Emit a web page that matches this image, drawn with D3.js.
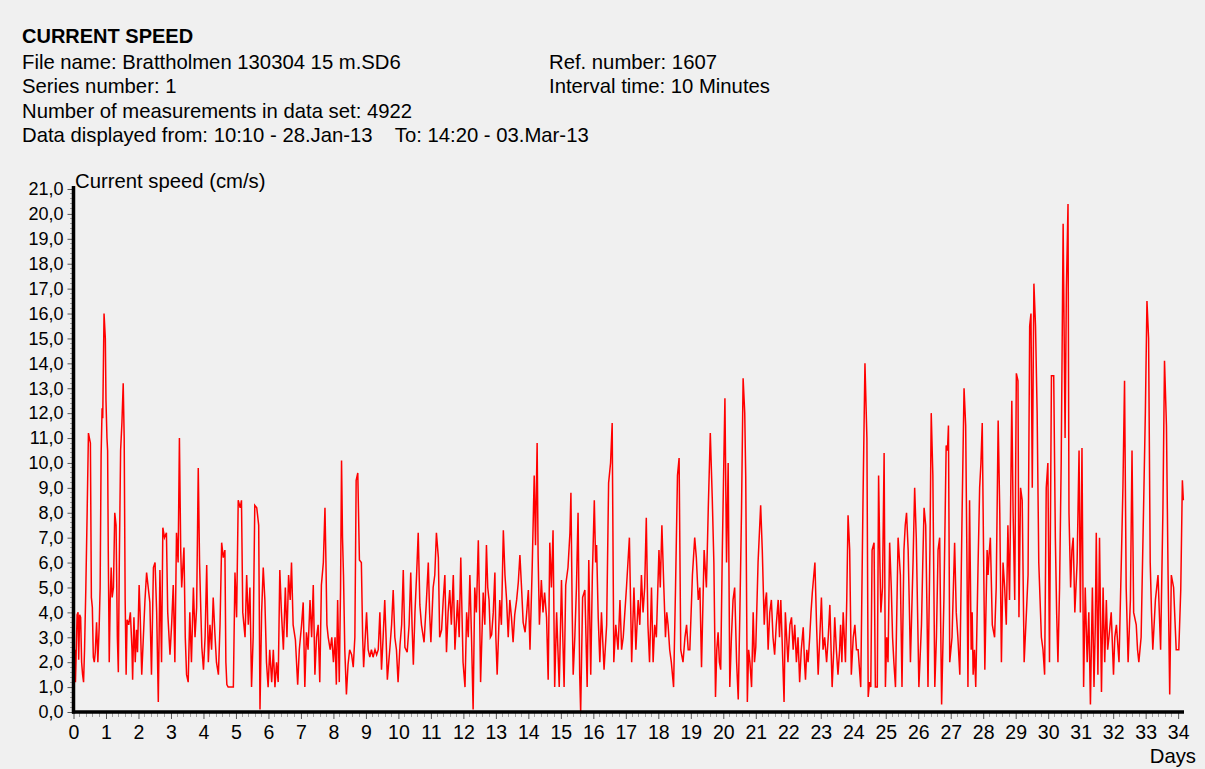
<!DOCTYPE html>
<html>
<head>
<meta charset="utf-8">
<script src="https://cdn.jsdelivr.net/npm/d3@7"></script>
<style>
  html, body { margin: 0; padding: 0; background: #f0f0f0; }
  svg { display: block; }
  text { font-family: "Liberation Sans", Arial, sans-serif; fill: #000; }
</style>
</head>
<body>
<svg id="chart" width="1205" height="769"></svg>
<script>
// ---- header text ----
const title = "CURRENT SPEED";
const infoLeft = [
  "File name: Brattholmen 130304 15 m.SD6",
  "Series number: 1",
  "Number of measurements in data set: 4922",
  "Data displayed from: 10:10 - 28.Jan-13    To: 14:20 - 03.Mar-13"
];
const infoRight = ["Ref. number: 1607", "Interval time: 10 Minutes"];
const yAxisTitle = "Current speed (cm/s)";
const xAxisTitle = "Days";

// ---- axis ticks ----
const yTickValues = d3.range(0, 22, 1);          // 0,0 ... 21,0
const xTickValues = d3.range(0, 35, 1);          // 0 ... 34
const totalDays = 34.18;                          // 4922 x 10 min

// ---- readings [day, current speed cm/s] ----
const seg1 = [[0.00,5.7],[0.02,1.6],[0.04,2.5],[0.06,1.2],[0.08,2.2],[0.11,3.9],[0.14,4.0],[0.16,2.1],[0.19,3.9],[0.22,3.8],[0.25,2.0],[0.28,1.5],[0.31,1.2],[0.34,2.5],[0.38,5.0],[0.42,8.0],[0.46,11.2],[0.49,11.0],[0.52,10.8],[0.55,4.6],[0.58,4.2],[0.61,2.2],[0.64,2.0],[0.67,2.4],[0.71,3.6],[0.75,2.0],[0.79,3.4],[0.82,5.0],[0.85,10.3],[0.88,12.2],[0.90,11.8],[0.94,16.0],[0.98,15.0],[1.00,12.5],[1.03,11.0],[1.05,10.5],[1.07,6.5],[1.10,2.0],[1.13,4.5],[1.16,5.8],[1.19,4.6],[1.23,5.0],[1.27,8.0],[1.31,7.5],[1.35,3.0],[1.38,1.6],[1.41,6.0],[1.45,10.5],[1.49,11.6],[1.53,13.2],[1.56,11.0],[1.59,4.5],[1.62,1.5],[1.65,3.7],[1.70,3.5],[1.75,4.0],[1.80,2.5],[1.82,1.3],[1.86,3.8],[1.90,2.0],[1.94,3.3],[1.97,2.4],[2.02,5.1],[2.05,4.0],[2.10,1.5],[2.15,3.0],[2.20,4.5],[2.25,5.6],[2.30,5.0],[2.35,4.4],[2.40,1.5],[2.46,5.8],[2.51,6.0],[2.56,4.0],[2.61,0.4],[2.66,5.7],[2.71,2.0],[2.75,7.4],[2.80,7.0],[2.86,7.2],[2.90,4.0],[2.97,2.3],[3.02,3.5],[3.07,5.1],[3.12,2.0],[3.17,7.2],[3.22,6.0],[3.26,11.0],[3.30,6.5],[3.33,5.0],[3.40,6.6],[3.44,3.0],[3.48,1.5],[3.53,1.2],[3.58,4.0],[3.63,2.0],[3.69,5.0],[3.74,3.0],[3.79,4.2],[3.84,9.8],[3.88,6.0],[3.92,4.0],[3.95,2.6],[4.00,1.7],[4.05,3.0],[4.10,5.9],[4.15,2.0],[4.20,3.5],[4.25,2.5],[4.30,4.6],[4.35,3.2],[4.40,2.0],[4.46,1.5],[4.51,3.5],[4.56,6.8],[4.61,6.2],[4.66,6.5],[4.69,2.0],[4.72,1.1],[4.76,1.0],[4.92,1.0],[4.97,5.6],[5.02,3.8],[5.07,8.5],[5.13,8.2],[5.17,8.5],[5.21,4.0],[5.28,3.0],[5.33,5.5],[5.38,3.5],[5.43,5.0],[5.48,1.0],[5.53,3.0],[5.58,8.3],[5.64,8.2],[5.70,7.5],[5.74,0.1],[5.79,4.0],[5.84,5.8],[5.89,4.5],[5.94,2.0],[5.99,1.0],[6.04,2.5],[6.10,1.2],[6.15,2.5],[6.20,1.0],[6.25,2.0],[6.30,1.2],[6.35,5.7],[6.40,4.0],[6.46,2.5],[6.52,5.0],[6.57,3.0],[6.62,5.5]];
const seg2 = [[6.67,4.5],[6.71,6.0],[6.76,3.5],[6.83,2.9],[6.90,1.1],[6.95,2.5],[7.02,3.5],[7.07,4.4],[7.12,1.0],[7.17,3.2],[7.22,2.5],[7.28,4.5],[7.33,3.0],[7.38,5.1],[7.43,1.5],[7.48,3.0],[7.53,3.5],[7.58,1.2],[7.63,5.1],[7.69,6.0],[7.74,8.2],[7.77,6.0],[7.80,3.5],[7.84,3.0],[7.90,2.5],[7.95,3.0],[8.00,2.0],[8.05,3.0],[8.09,1.1],[8.13,4.5],[8.18,1.2],[8.22,5.0],[8.25,10.1],[8.28,7.0],[8.31,5.5],[8.35,2.5],[8.40,0.7],[8.45,1.9],[8.50,2.5],[8.56,2.3],[8.61,1.8],[8.66,3.0],[8.70,9.3],[8.75,9.6],[8.80,6.1],[8.86,6.0],[8.90,3.0],[8.93,1.8],[8.98,3.0],[9.02,4.0],[9.07,2.5],[9.12,2.2],[9.17,2.5],[9.22,2.2],[9.28,2.5],[9.33,2.3],[9.38,2.5],[9.43,4.0],[9.48,1.7],[9.53,3.0],[9.58,4.5],[9.62,3.0],[9.66,1.3],[9.74,2.6],[9.79,3.5],[9.84,4.9],[9.89,3.0],[9.94,2.5],[9.99,1.2],[10.05,2.7],[10.10,3.5],[10.15,5.7],[10.20,2.6],[10.27,2.4],[10.33,3.5],[10.38,5.6],[10.42,3.5],[10.46,1.9],[10.51,4.0],[10.56,5.5],[10.61,7.2],[10.66,4.3],[10.71,3.5],[10.79,2.8],[10.86,4.4],[10.92,6.0],[10.96,4.0],[11.00,2.8],[11.07,5.0],[11.12,5.5],[11.17,7.2],[11.23,6.2],[11.27,3.0],[11.33,3.3],[11.38,4.5],[11.43,5.5],[11.48,2.4],[11.53,4.0],[11.58,4.9],[11.63,3.5],[11.69,5.5],[11.74,2.5],[11.78,3.5],[11.82,4.5],[11.87,3.0],[11.92,6.2],[11.99,2.0],[12.05,1.0],[12.10,4.0],[12.15,3.0],[12.20,5.5],[12.25,3.0],[12.30,0.1],[12.35,5.0],[12.40,4.0],[12.46,6.9],[12.50,4.0],[12.53,1.2],[12.57,3.0],[12.61,4.8],[12.66,3.5],[12.71,6.7],[12.75,5.0],[12.79,4.5],[12.83,3.0],[12.87,3.1],[12.92,4.0],[12.97,5.6],[13.00,3.0],[13.04,1.5],[13.08,3.0],[13.12,4.5],[13.17,3.5],[13.23,7.3],[13.28,5.5],[13.33,4.5],[13.38,3.0],[13.43,4.5]];
const seg3 = [[13.48,3.8],[13.53,2.8],[13.58,3.9],[13.64,4.5],[13.69,5.2],[13.74,6.3],[13.79,5.0],[13.84,3.6],[13.90,3.2],[13.95,4.0],[14.00,4.9],[14.05,2.5],[14.12,5.9],[14.18,9.5],[14.22,6.7],[14.27,10.8],[14.30,6.3],[14.34,3.5],[14.40,5.3],[14.45,4.0],[14.50,4.8],[14.56,3.8],[14.61,1.3],[14.66,6.8],[14.71,5.0],[14.76,7.3],[14.81,1.0],[14.87,4.0],[14.95,1.0],[15.02,5.3],[15.06,3.0],[15.10,1.0],[15.15,5.1],[15.22,5.8],[15.28,7.2],[15.31,8.8],[15.35,4.0],[15.38,1.5],[15.43,3.0],[15.48,5.0],[15.53,8.0],[15.58,1.5],[15.61,0.0],[15.67,4.6],[15.74,4.9],[15.81,1.0],[15.86,6.1],[15.92,1.5],[15.97,5.5],[16.03,8.5],[16.07,6.0],[16.10,6.7],[16.15,3.8],[16.20,2.0],[16.25,4.0],[16.33,1.7],[16.41,3.5],[16.47,9.2],[16.53,10.0],[16.58,11.6],[16.63,2.0],[16.69,3.5],[16.76,2.5],[16.82,4.5],[16.87,2.5],[16.92,3.0],[16.97,4.0],[17.02,5.0],[17.11,7.0],[17.18,2.0],[17.25,5.0],[17.31,2.5],[17.38,4.5],[17.43,3.5],[17.48,5.5],[17.53,4.0],[17.58,5.0],[17.63,7.8],[17.68,3.5],[17.73,2.0],[17.79,5.0],[17.84,2.0],[17.89,3.5],[17.94,3.0],[18.02,6.5],[18.06,5.0],[18.11,7.5],[18.17,5.0],[18.22,3.0],[18.26,4.0],[18.30,3.5],[18.35,2.5],[18.40,2.0],[18.47,1.0],[18.53,5.0],[18.59,9.5],[18.64,10.2],[18.69,2.5],[18.76,2.0],[18.82,3.0],[18.87,3.5],[18.92,2.5],[18.97,2.5],[19.05,5.5],[19.12,7.0],[19.17,6.2],[19.23,4.5],[19.28,5.0],[19.33,1.8],[19.41,6.5],[19.48,5.0],[19.54,8.3],[19.60,11.2],[19.66,8.6],[19.71,6.0],[19.76,0.6],[19.80,2.5],[19.84,3.2],[19.88,2.0],[19.92,1.7],[19.97,6.5],[20.05,12.6],[20.10,6.0],[20.15,10.0],[20.20,1.0],[20.25,3.0],[20.30,4.5]];
const seg4 = [[20.35,5.0],[20.41,2.0],[20.46,0.5],[20.51,4.0],[20.56,8.0],[20.61,13.4],[20.66,12.0],[20.69,9.5],[20.74,0.4],[20.78,2.5],[20.82,2.0],[20.87,1.0],[20.92,4.0],[20.96,2.0],[21.00,2.6],[21.07,6.0],[21.15,8.3],[21.20,6.5],[21.26,3.5],[21.30,4.5],[21.33,4.8],[21.38,2.5],[21.43,4.0],[21.48,4.5],[21.53,3.0],[21.58,2.3],[21.63,3.5],[21.69,4.5],[21.73,3.0],[21.77,4.5],[21.82,2.5],[21.87,0.4],[21.91,4.0],[21.95,3.0],[21.99,2.0],[22.05,3.5],[22.10,3.8],[22.15,2.5],[22.20,3.5],[22.25,2.0],[22.30,3.0],[22.35,1.2],[22.40,2.5],[22.46,3.4],[22.50,2.0],[22.53,1.3],[22.57,2.5],[22.61,2.0],[22.66,3.0],[22.70,4.0],[22.74,4.8],[22.82,6.0],[22.87,3.5],[22.92,1.5],[22.97,3.0],[23.02,4.6],[23.07,2.5],[23.12,3.0],[23.18,2.0],[23.23,3.0],[23.28,4.3],[23.35,1.0],[23.40,2.5],[23.43,3.8],[23.48,2.5],[23.53,1.5],[23.58,2.5],[23.61,3.5],[23.65,2.0],[23.69,4.0],[23.76,2.0],[23.80,4.5],[23.84,7.9],[23.89,6.5],[23.94,1.5],[24.00,3.0],[24.05,3.5],[24.10,2.5],[24.15,2.5],[24.23,1.0],[24.30,8.5],[24.36,14.0],[24.42,11.0],[24.46,0.6],[24.50,1.2],[24.54,1.0],[24.58,6.5],[24.64,6.8],[24.68,1.0],[24.74,1.0],[24.78,9.5],[24.82,6.0],[24.85,4.0],[24.90,5.0],[24.95,10.4],[24.99,1.0],[25.03,3.0],[25.07,2.0],[25.12,6.8],[25.17,5.0],[25.21,3.0],[25.25,2.0],[25.30,1.0],[25.38,7.0],[25.45,5.5],[25.50,1.0],[25.56,6.5],[25.60,7.5],[25.64,8.0],[25.69,6.5],[25.73,4.0],[25.76,2.0],[25.84,6.0],[25.89,9.0],[25.94,7.0],[25.98,4.0],[26.02,1.0],[26.10,3.5],[26.14,6.0],[26.18,8.2],[26.23,7.5],[26.27,4.0],[26.30,1.0],[26.36,6.5],[26.40,12.0],[26.45,9.5],[26.51,1.0],[26.56,3.0],[26.61,6.5],[26.66,7.0],[26.72,0.3],[26.79,4.5],[26.86,10.7],[26.90,10.5],[26.93,11.5],[26.97,2.0],[27.04,3.0],[27.12,6.8],[27.17,4.0],[27.22,3.0],[27.28,1.5],[27.35,8.0],[27.41,13.0]];
const seg5 = [[27.46,11.5],[27.50,6.0],[27.53,1.0],[27.58,8.5],[27.63,2.5],[27.66,4.0],[27.69,1.5],[27.73,2.5],[27.77,1.0],[27.80,3.0],[27.84,5.8],[27.89,9.0],[27.93,10.0],[27.97,11.6],[28.01,6.5],[28.05,1.7],[28.12,6.5],[28.15,5.5],[28.18,6.3],[28.22,7.0],[28.28,3.5],[28.35,3.0],[28.40,5.0],[28.46,11.7],[28.51,8.0],[28.56,2.0],[28.61,6.0],[28.66,5.0],[28.71,3.5],[28.76,7.5],[28.81,4.5],[28.88,12.5],[28.92,8.0],[28.97,4.5],[29.02,13.6],[29.07,13.3],[29.10,3.8],[29.15,9.0],[29.20,8.5],[29.26,2.0],[29.33,4.0],[29.38,5.5],[29.43,15.5],[29.47,16.0],[29.51,9.0],[29.56,17.2],[29.61,15.5],[29.66,12.0],[29.71,6.0],[29.75,4.5],[29.79,3.0],[29.84,2.5],[29.89,1.5],[29.94,9.0],[29.99,10.0],[30.04,2.0],[30.10,13.5],[30.17,13.5],[30.22,7.0],[30.26,4.0],[30.30,2.0],[30.35,5.0],[30.40,10.0],[30.46,19.6],[30.52,11.0],[30.56,17.0],[30.61,20.4],[30.64,8.0],[30.69,5.0],[30.73,6.5],[30.77,7.0],[30.82,4.0],[30.89,6.0],[30.95,10.5],[30.99,4.0],[31.04,10.6],[31.09,1.0],[31.14,5.0],[31.20,2.0],[31.25,4.0],[31.30,0.3],[31.36,5.0],[31.41,1.0],[31.45,3.5],[31.48,7.2],[31.53,1.5],[31.58,7.0],[31.64,0.8],[31.69,5.0],[31.74,2.0],[31.79,4.5],[31.83,2.5],[31.87,3.0],[31.94,4.0],[32.01,1.5],[32.05,3.0],[32.10,3.5],[32.18,2.0],[32.25,6.0],[32.30,9.0],[32.35,13.3],[32.40,5.0],[32.46,2.0],[32.53,4.5],[32.58,10.5],[32.63,4.0],[32.71,3.5],[32.75,2.5],[32.79,2.0],[32.86,3.0],[32.94,8.5],[32.99,12.0],[33.04,16.5],[33.09,15.0],[33.14,6.0],[33.18,4.0],[33.22,2.5],[33.30,4.5],[33.38,5.5],[33.46,2.5],[33.53,8.0],[33.58,14.1],[33.64,11.5],[33.69,5.5],[33.74,0.7],[33.79,5.5],[33.86,5.0],[33.94,2.5],[34.02,2.5],[34.08,4.9],[34.13,9.3],[34.16,8.5]];

const readings = [].concat(seg1, seg2, seg3, seg4, seg5);

// ---- drawing ----
const FS_HEAD = 20.3;
const FS_YTICK = 18;
const FS_XTICK = 19.5;
const svg = d3.select("#chart");
svg.append("rect").attr("width", 1205).attr("height", 769).attr("fill", "#f0f0f0");

const x = d3.scaleLinear().domain([0, totalDays]).range([73.5, 1184]);
const y = d3.scaleLinear().domain([0, 21]).range([712, 189]);

// header
svg.append("text").attr("x", 22).attr("y", 43).attr("font-size", 20)
   .attr("font-weight", "bold").text(title);
svg.selectAll("text.infoL").data(infoLeft).join("text")
   .attr("class", "infoL").attr("x", 22).attr("y", (d, i) => 69 + i * 24.4)
   .attr("font-size", FS_HEAD).attr("xml:space", "preserve").style("white-space", "pre").text(d => d);
svg.selectAll("text.infoR").data(infoRight).join("text")
   .attr("class", "infoR").attr("x", 549).attr("y", (d, i) => 69 + i * 24.4)
   .attr("font-size", FS_HEAD).text(d => d);

// y axis title
svg.append("text").attr("x", 75).attr("y", 188).attr("font-size", FS_HEAD).text(yAxisTitle);

// minor ticks
const yMinor = d3.range(0, 21.001, 0.2).filter(v => Math.abs(v - Math.round(v)) > 1e-6);
svg.append("g").selectAll("line").data(yMinor).join("line")
   .attr("x1", x(0) - 4).attr("x2", x(0)).attr("y1", d => y(d)).attr("y2", d => y(d))
   .attr("stroke", "#a0a0a0").attr("stroke-width", 1).attr("shape-rendering", "crispEdges");
const xMinor = d3.range(0, totalDays, 0.2).filter(v => Math.abs(v - Math.round(v)) > 1e-6);
svg.append("g").selectAll("line").data(xMinor).join("line")
   .attr("x1", d => x(d)).attr("x2", d => x(d)).attr("y1", y(0)).attr("y2", y(0) + 5)
   .attr("stroke", "#a0a0a0").attr("stroke-width", 1).attr("shape-rendering", "crispEdges");

// y axis (major)
const yAxis = d3.axisLeft(y).tickValues(yTickValues).tickSize(6).tickPadding(4)
   .tickFormat(d => d3.format(".1f")(d).replace(".", ","));
const gy = svg.append("g").attr("transform", `translate(${x(0)},0)`).call(yAxis);
gy.select(".domain").remove();
gy.selectAll(".tick line").attr("stroke", "#555");
gy.selectAll(".tick text").attr("font-size", FS_YTICK).attr("font-family", "Liberation Sans, Arial, sans-serif");

// x axis (major)
const xAxis = d3.axisBottom(x).tickValues(xTickValues).tickSize(7).tickPadding(6)
   .tickFormat(d3.format("d"));
const gx = svg.append("g").attr("transform", `translate(0,${y(0)})`).call(xAxis);
gx.select(".domain").remove();
gx.selectAll(".tick line").attr("stroke", "#555");
gx.selectAll(".tick text").attr("font-size", FS_XTICK).attr("font-family", "Liberation Sans, Arial, sans-serif");

// data line
const line = d3.line().x(d => x(d[0])).y(d => y(d[1]));
svg.append("path").datum(readings).attr("d", line)
   .attr("fill", "none").attr("stroke", "#ff0000").attr("stroke-width", 1.5)
   .attr("stroke-linejoin", "miter");

// thick axis lines
svg.append("line").attr("x1", x(0)).attr("x2", x(0)).attr("y1", y(21) - 3).attr("y2", y(0) + 1.5)
   .attr("stroke", "#000").attr("stroke-width", 3.5);
svg.append("line").attr("x1", x(0) - 1.5).attr("x2", x(totalDays)).attr("y1", y(0)).attr("y2", y(0))
   .attr("stroke", "#000").attr("stroke-width", 3.5);

// x axis title
svg.append("text").attr("x", 1196).attr("y", 763).attr("text-anchor", "end")
   .attr("font-size", FS_HEAD).text(xAxisTitle);
</script>
</body>
</html>
